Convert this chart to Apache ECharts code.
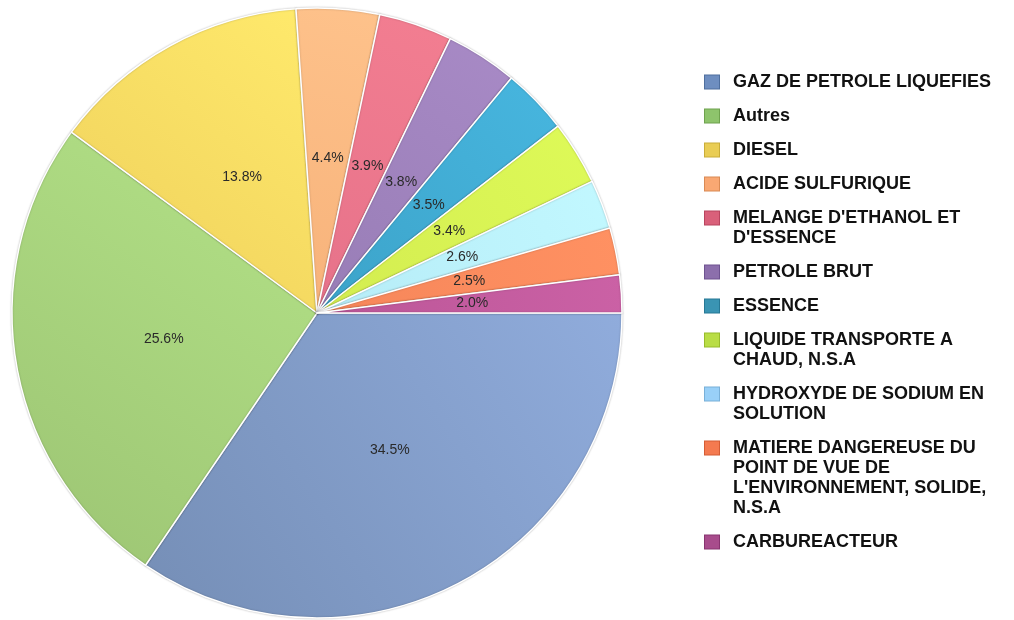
<!DOCTYPE html>
<html>
<head>
<meta charset="utf-8">
<script src="https://cdn.jsdelivr.net/npm/echarts@6/dist/echarts.min.js"></script>
<style>
html,body{margin:0;padding:0;background:#fff;}
#chart{width:1014px;height:620px;}
</style>
</head>
<body>
<div id="chart"></div>
<script>
// ---- data ----
const categories = [
  "GAZ DE PETROLE LIQUEFIES",
  "Autres",
  "DIESEL",
  "ACIDE SULFURIQUE",
  "MELANGE D'ETHANOL ET D'ESSENCE",
  "PETROLE BRUT",
  "ESSENCE",
  "LIQUIDE TRANSPORTE A CHAUD, N.S.A",
  "HYDROXYDE DE SODIUM EN SOLUTION",
  "MATIERE DANGEREUSE DU POINT DE VUE DE L'ENVIRONNEMENT, SOLIDE, N.S.A",
  "CARBUREACTEUR"
];
const shares = [34.5, 25.6, 13.8, 4.4, 3.9, 3.8, 3.5, 3.4, 2.6, 2.5, 2.0];
const legendLines = [
  ["GAZ DE PETROLE LIQUEFIES"],
  ["Autres"],
  ["DIESEL"],
  ["ACIDE SULFURIQUE"],
  ["MELANGE D'ETHANOL ET", "D'ESSENCE"],
  ["PETROLE BRUT"],
  ["ESSENCE"],
  ["LIQUIDE TRANSPORTE A", "CHAUD, N.S.A"],
  ["HYDROXYDE DE SODIUM EN", "SOLUTION"],
  ["MATIERE DANGEREUSE DU", "POINT DE VUE DE", "L'ENVIRONNEMENT, SOLIDE,", "N.S.A"],
  ["CARBUREACTEUR"]
];
// slice gradient colours (light, dark) and legend swatch colours
const sliceLight = ["#90acdc","#b4e388","#ffea6c","#fec28b","#f37e91","#a88ac6","#47b6df","#defa58","#c2f8ff","#ff9162","#cb61a5"];
const sliceDark  = ["#758eb6","#9cc473","#eecf5b","#f7b27a","#e6728a","#987db6","#3ca3c9","#d3ec50","#b6ecf7","#f6865a","#bb5698"];
const legendColors = ["#6e8ec0","#8ec46c","#e9cd55","#f9a873","#d9607a","#8c6fac","#3a94b3","#b9dd45","#99d0f8","#f47a50","#a84c8c"];
const legendBorders = ["#4f6f9e","#6fa24e","#c9ad3a","#d98a55","#b8455f","#6e5390","#277895","#98bb2c","#79b0d8","#d45c35","#883470"];

// ---- chart ----
const chart = echarts.init(document.getElementById('chart'), null, {renderer: 'canvas'});

const rich = {
  t: {fontFamily: 'Liberation Sans', fontSize: 18, fontWeight: 'bold', color: '#111', lineHeight: 20, padding: [0, 0, 0, 14]},
  sp: {width: 14, height: 14, lineHeight: 20}
};
legendColors.forEach((c, i) => {
  rich['b' + i] = {width: 14, height: 13, backgroundColor: c, borderColor: legendBorders[i], borderWidth: 1, lineHeight: 20};
});

const data = categories.map((name, i) => ({
  name: name,
  value: shares[i],
  itemStyle: {
    color: new echarts.graphic.LinearGradient(1, 0, 0, 1, [
      {offset: 0, color: sliceLight[i]},
      {offset: 1, color: sliceDark[i]}
    ])
  }
}));

chart.setOption({
  animation: false,
  backgroundColor: '#ffffff',
  legend: {
    orient: 'vertical',
    left: 700,
    top: 72,
    padding: 0,
    icon: 'none',
    itemWidth: 0,
    itemHeight: 20,
    itemGap: 14,
    selectedMode: false,
    data: categories,
    formatter: function (name) {
      const i = categories.indexOf(name);
      const lines = legendLines[i];
      return lines.map((l, k) => (k === 0 ? '{b' + i + '|}' : '{sp|}') + '{t|' + l + '}').join('\n');
    },
    textStyle: {rich: rich, lineHeight: 20}
  },
  series: [{
    type: 'pie',
    center: [317, 313],
    radius: 305,
    startAngle: 0,
    clockwise: true,
    avoidLabelOverlap: false,
    silent: true,
    itemStyle: {
      borderColor: '#ffffff',
      borderWidth: 1.5,
      shadowBlur: 2,
      shadowColor: 'rgba(0,0,0,0.25)'
    },
    label: {
      show: true,
      position: 'inside',
      formatter: function (p) { return p.value.toFixed(1) + '%'; },
      fontFamily: 'Liberation Sans',
      fontSize: 14,
      color: '#2a2a2a',
      textBorderWidth: 0
    },
    labelLine: {show: false},
    data: data
  }]
});
</script>
</body>
</html>
